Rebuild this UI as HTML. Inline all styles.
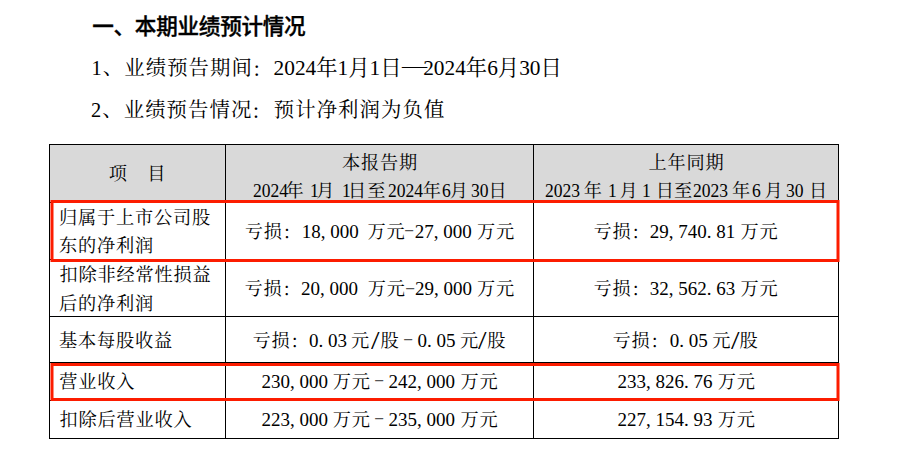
<!DOCTYPE html>
<html lang="zh-CN">
<head>
<meta charset="utf-8">
<title>本期业绩预计情况</title>
<style>
html,body{margin:0;padding:0;background:#fff;}
body{width:906px;height:453px;position:relative;overflow:hidden;color:#000;}
.r{position:absolute;white-space:nowrap;line-height:30px;height:30px;}
.ln{position:absolute;background:#000;}
.hd{position:absolute;background:#d9d9d9;}
.rs{position:absolute;left:0;top:0;}
.p{display:inline-block;width:0.5em;}
.cb{position:relative;top:2px;left:-1px;}
.cc{position:relative;top:1px;}
.ti{font-family:'Liberation Sans','Noto Sans CJK SC',sans-serif;font-weight:500;-webkit-text-stroke:0.35px #000;font-size:21.6px;letter-spacing:-0.27px;}
.bc{font-family:'Liberation Serif','Noto Serif CJK SC',serif;font-size:21.33px;font-weight:300;transform:scaleX(1.18);transform-origin:0 0;}
.b{font-family:'Liberation Serif','Noto Serif CJK SC',serif;font-size:20.4px;letter-spacing:1.05px;}
.bl{font-family:'Liberation Serif','Noto Serif CJK SC',serif;font-size:21.33px;}
.c{font-family:'Liberation Serif','Noto Serif CJK SC',serif;font-size:18.2px;letter-spacing:0.8px;}
.cd{font-family:'Liberation Serif','Noto Serif CJK SC',serif;font-size:19px;}
.sl{font-family:'Liberation Serif','Noto Serif CJK SC',serif;font-size:24.5px;transform:scaleX(1.25);transform-origin:0 0;}
.hy{font-family:'Liberation Serif','Noto Serif CJK SC',serif;font-size:18.7px;color:#555;transform:scaleX(1.65);transform-origin:0 0;}
.hl{font-family:'Liberation Serif','Noto Serif CJK SC',serif;font-size:18.67px;transform:scaleX(0.94);transform-origin:0 0;}
</style>
</head>
<body>

<div class="hd" style="left:50px;top:145px;width:788px;height:57px;"></div>
<div class="ln" style="left:49px;top:144px;width:790px;height:1px;"></div>
<div class="ln" style="left:49px;top:202px;width:790px;height:1px;"></div>
<div class="ln" style="left:49px;top:259px;width:790px;height:1px;"></div>
<div class="ln" style="left:49px;top:316px;width:790px;height:1px;"></div>
<div class="ln" style="left:49px;top:362px;width:790px;height:1px;"></div>
<div class="ln" style="left:49px;top:400px;width:790px;height:1px;"></div>
<div class="ln" style="left:49px;top:438px;width:790px;height:1px;"></div>
<div class="ln" style="left:49px;top:144px;width:1px;height:295px;"></div>
<div class="ln" style="left:225px;top:144px;width:1px;height:295px;"></div>
<div class="ln" style="left:533px;top:144px;width:1px;height:295px;"></div>
<div class="ln" style="left:838px;top:144px;width:1px;height:295px;"></div>
<div class="r ti" id="r0_0" style="left:92.20px;top:11.50px;">一、本期业绩预计情况</div>
<div class="r b" id="r1_0" style="left:91.60px;top:53.00px;">1、业绩预告期间<span class="cb">：</span></div>
<div class="r bl" id="r1_1" style="left:273.60px;top:53.00px;">2024年1月1日</div>
<div class="r bl" id="r1_2" style="left:423.20px;top:53.00px;">2024年6月30日</div>
<div class="r bc" id="r2_0" style="left:402.20px;top:50.50px;">—</div>
<div class="r b" id="r3_0" style="left:91.00px;top:95.00px;">2、业绩预告情况<span class="cb">：</span>预计净利润为负值</div>
<div class="r c" id="r4_0" style="left:108.80px;top:159.30px;">项</div>
<div class="r c" id="r4_1" style="left:147.20px;top:159.30px;">目</div>
<div class="r c" id="r5_0" style="left:342.00px;top:148.40px;">本报告期</div>
<div class="r c" id="r6_0" style="left:648.60px;top:148.40px;">上年同期</div>
<div class="r hl" id="r7_0" style="left:253.20px;top:175.80px;">2024</div>
<div class="r c" id="r7_1" style="left:285.60px;top:175.80px;">年</div>
<div class="r hl" id="r7_2" style="left:309.80px;top:175.80px;">1</div>
<div class="r c" id="r7_3" style="left:316.20px;top:175.80px;">月</div>
<div class="r hl" id="r7_4" style="left:341.80px;top:175.80px;">1</div>
<div class="r c" id="r7_5" style="left:348.00px;top:175.80px;">日</div>
<div class="r c" id="r7_6" style="left:367.20px;top:175.80px;">至</div>
<div class="r hl" id="r7_7" style="left:388.20px;top:175.80px;">2024</div>
<div class="r c" id="r7_8" style="left:422.80px;top:175.80px;">年</div>
<div class="r hl" id="r7_9" style="left:441.80px;top:175.80px;">6</div>
<div class="r c" id="r7_10" style="left:449.80px;top:175.80px;">月</div>
<div class="r hl" id="r7_11" style="left:471.20px;top:175.80px;">30</div>
<div class="r c" id="r7_12" style="left:488.60px;top:175.80px;">日</div>
<div class="r hl" id="r8_0" style="left:545.20px;top:175.80px;">2023</div>
<div class="r c" id="r8_1" style="left:583.80px;top:175.80px;">年</div>
<div class="r hl" id="r8_2" style="left:607.80px;top:175.80px;">1</div>
<div class="r c" id="r8_3" style="left:619.40px;top:175.80px;">月</div>
<div class="r hl" id="r8_4" style="left:642.00px;top:175.80px;">1</div>
<div class="r c" id="r8_5" style="left:655.80px;top:175.80px;">日</div>
<div class="r c" id="r8_6" style="left:674.00px;top:175.80px;">至</div>
<div class="r hl" id="r8_7" style="left:692.60px;top:175.80px;">2023</div>
<div class="r c" id="r8_8" style="left:732.00px;top:175.80px;">年</div>
<div class="r hl" id="r8_9" style="left:752.00px;top:175.80px;">6</div>
<div class="r c" id="r8_10" style="left:764.40px;top:175.80px;">月</div>
<div class="r hl" id="r8_11" style="left:786.40px;top:175.80px;">30</div>
<div class="r c" id="r8_12" style="left:809.00px;top:175.80px;">日</div>
<div class="r c" id="r9_0" style="left:59.00px;top:203.00px;">归属于上市公司股</div>
<div class="r c" id="r10_0" style="left:59.00px;top:231.20px;">东的净利润</div>
<div class="r c" id="r11_0" style="left:244.80px;top:217.00px;">亏损<span class="cc">：</span></div>
<div class="r cd" id="r11_1" style="left:301.80px;top:217.00px;">18<span class="p">,</span>000</div>
<div class="r c" id="r11_2" style="left:367.40px;top:217.00px;">万元</div>
<div class="r cd" id="r11_3" style="left:414.80px;top:217.00px;">27<span class="p">,</span>000</div>
<div class="r c" id="r11_4" style="left:477.00px;top:217.00px;">万元</div>
<div class="r c" id="r12_0" style="left:593.40px;top:217.20px;">亏损<span class="cc">：</span></div>
<div class="r cd" id="r12_1" style="left:649.80px;top:217.20px;">29<span class="p">,</span>740<span class="p">.</span>81</div>
<div class="r c" id="r12_2" style="left:740.60px;top:217.20px;">万元</div>
<div class="r c" id="r13_0" style="left:59.60px;top:260.00px;">扣除非经常性损益</div>
<div class="r c" id="r14_0" style="left:59.00px;top:289.20px;">后的净利润</div>
<div class="r c" id="r15_0" style="left:244.60px;top:274.00px;">亏损<span class="cc">：</span></div>
<div class="r cd" id="r15_1" style="left:301.00px;top:274.00px;">20<span class="p">,</span>000</div>
<div class="r c" id="r15_2" style="left:367.80px;top:274.00px;">万元</div>
<div class="r cd" id="r15_3" style="left:415.00px;top:274.00px;">29<span class="p">,</span>000</div>
<div class="r c" id="r15_4" style="left:477.00px;top:274.00px;">万元</div>
<div class="r c" id="r16_0" style="left:593.60px;top:274.20px;">亏损<span class="cc">：</span></div>
<div class="r cd" id="r16_1" style="left:649.80px;top:274.20px;">32<span class="p">,</span>562<span class="p">.</span>63</div>
<div class="r c" id="r16_2" style="left:740.60px;top:274.20px;">万元</div>
<div class="r c" id="r17_0" style="left:59.00px;top:326.00px;">基本每股收益</div>
<div class="r c" id="r18_0" style="left:252.40px;top:325.60px;">亏损<span class="cc">：</span></div>
<div class="r cd" id="r18_1" style="left:309.00px;top:325.60px;">0<span class="p">.</span>03</div>
<div class="r c" id="r18_2" style="left:351.00px;top:325.60px;">元</div>
<div class="r c" id="r18_3" style="left:380.40px;top:325.60px;">股</div>
<div class="r cd" id="r18_4" style="left:417.60px;top:325.60px;">0<span class="p">.</span>05</div>
<div class="r c" id="r18_5" style="left:460.00px;top:325.60px;">元</div>
<div class="r c" id="r18_6" style="left:487.20px;top:325.60px;">股</div>
<div class="r sl" id="r19_0" style="left:370.60px;top:325.90px;">/</div>
<div class="r sl" id="r19_1" style="left:478.40px;top:325.90px;">/</div>
<div class="r c" id="r20_0" style="left:612.60px;top:325.60px;">亏损<span class="cc">：</span></div>
<div class="r cd" id="r20_1" style="left:669.80px;top:325.60px;">0<span class="p">.</span>05</div>
<div class="r c" id="r20_2" style="left:712.20px;top:325.60px;">元</div>
<div class="r c" id="r20_3" style="left:739.40px;top:325.60px;">股</div>
<div class="r sl" id="r21_0" style="left:731.00px;top:325.90px;">/</div>
<div class="r c" id="r22_0" style="left:59.20px;top:366.80px;">营业收入</div>
<div class="r cd" id="r23_0" style="left:261.60px;top:366.50px;">230<span class="p">,</span>000</div>
<div class="r c" id="r23_1" style="left:332.80px;top:366.50px;">万元</div>
<div class="r cd" id="r23_2" style="left:388.60px;top:366.50px;">242<span class="p">,</span>000</div>
<div class="r c" id="r23_3" style="left:460.40px;top:366.50px;">万元</div>
<div class="r cd" id="r24_0" style="left:617.40px;top:366.90px;">233<span class="p">,</span>826<span class="p">.</span>76</div>
<div class="r c" id="r24_1" style="left:717.80px;top:366.90px;">万元</div>
<div class="r c" id="r25_0" style="left:59.60px;top:404.80px;">扣除后营业收入</div>
<div class="r cd" id="r26_0" style="left:261.60px;top:404.50px;">223<span class="p">,</span>000</div>
<div class="r c" id="r26_1" style="left:332.80px;top:404.50px;">万元</div>
<div class="r cd" id="r26_2" style="left:388.60px;top:404.50px;">235<span class="p">,</span>000</div>
<div class="r c" id="r26_3" style="left:460.40px;top:404.50px;">万元</div>
<div class="r cd" id="r27_0" style="left:617.40px;top:405.10px;">227<span class="p">,</span>154<span class="p">.</span>93</div>
<div class="r c" id="r27_1" style="left:717.80px;top:405.10px;">万元</div>
<div class="r hy" id="r28_0" style="left:404.00px;top:213.70px;">-</div>
<div class="r hy" id="r29_0" style="left:404.80px;top:271.70px;">-</div>
<div class="r hy" id="r30_0" style="left:403.20px;top:322.90px;">-</div>
<div class="r hy" id="r31_0" style="left:374.40px;top:363.70px;">-</div>
<div class="r hy" id="r32_0" style="left:374.40px;top:401.70px;">-</div>

<svg class="rs" width="906" height="453" viewBox="0 0 906 453">
<rect x="52" y="201.5" width="786" height="59" fill="none" stroke="#fc1c00" stroke-width="3"/>
<rect x="52" y="364.5" width="786" height="35" fill="none" stroke="#fc1c00" stroke-width="3"/>
</svg>
</body>
</html>
